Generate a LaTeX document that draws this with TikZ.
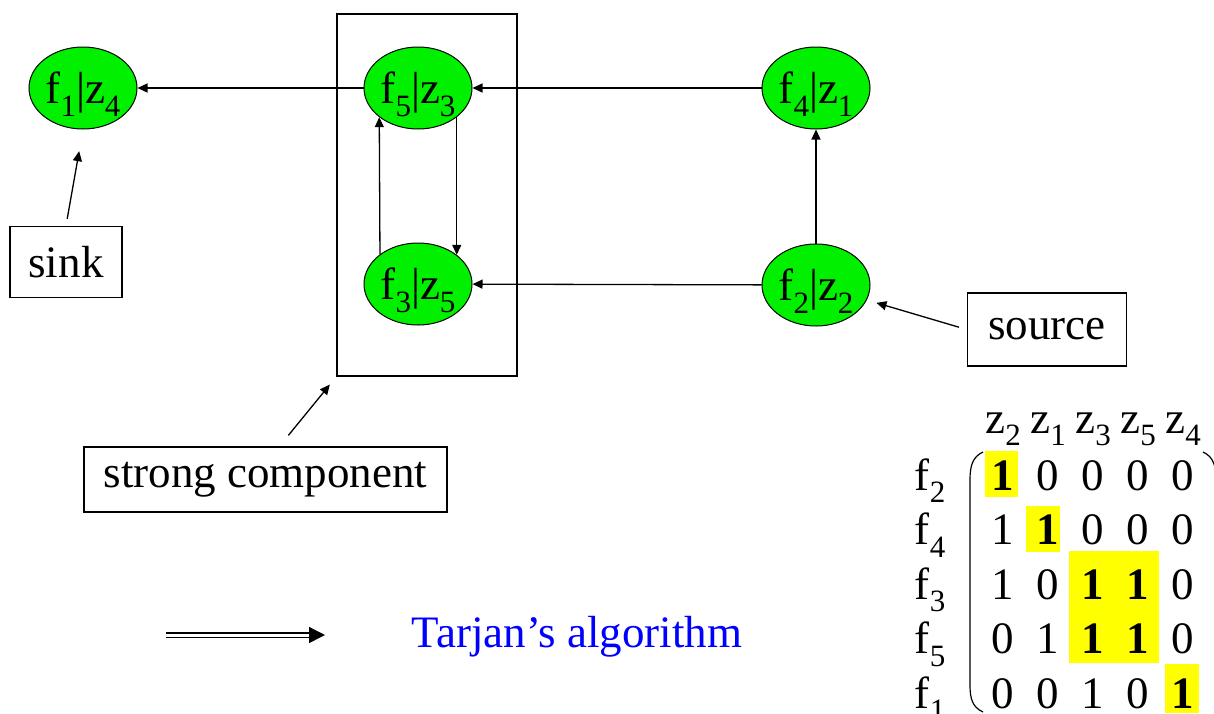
\documentclass[tikz,border=0pt]{standalone}
\usepackage{fontspec}
\setmainfont{Liberation Serif}
\usetikzlibrary{shapes.geometric,arrows.meta}

\definecolor{vgreen}{RGB}{0,240,0}
\definecolor{hilite}{RGB}{255,255,0}
\definecolor{tblue}{RGB}{0,0,255}
\newcommand{\lowidx}[1]{\raisebox{-0.28em}{\fontsize{15.5}{16}\selectfont #1}}
\newcommand{\fz}[2]{f\lowidx{#1}|z\lowidx{#2}}

\tikzset{
    every node/.style={font=\fontsize{22.5}{27}\selectfont},
    vert/.style={ellipse, draw, line width=0.5pt, fill=vgreen, text depth=0pt,
        minimum width=54pt, minimum height=41pt, inner sep=0pt},
    tagbox/.style={draw, line width=0.8pt, inner sep=0pt},
    edge/.style={line width=0.65pt, -{Triangle[length=5pt,width=4.5pt]}},
}

\begin{document}
\begin{tikzpicture}[x=0.5pt, y=-0.5pt]
        \useasboundingbox (0,0) rectangle (1214,713);
        % the strong component
        \node[tagbox, minimum width=90pt, minimum height=181pt] (scc) at (427,195) {};
        % vertices
        \node[vert] (f1) at (83,88) {\fz{1}{4}};
        \node[vert] (f5) at (418,88) {\fz{5}{3}};
        \node[vert] (f3) at (418,284) {\fz{3}{5}};
        \node[vert] (f4) at (816,88) {\fz{4}{1}};
        \node[vert] (f2) at (816,285) {\fz{2}{2}};
        \draw[edge] (f5) -- (f1);
        \draw[edge] (f4) -- (f5);
        \draw[edge] (f2) -- (f3);
        \draw[edge] (f2) -- (f4);
        \draw[edge] (f5.-37.5) -- (f3.37.5);
        \draw[edge] (f3.142.5) -- (f5.217.5);
        % labels
        \node[tagbox, minimum width=56pt, minimum height=35.5pt] (sink) at (66,262) {sink};
        \node[tagbox, minimum width=79.5pt, minimum height=36.5pt] (source) at (1047,329.5) {source};
        \node[tagbox, minimum width=181.5pt, minimum height=32.5pt] (strong) at (265.5,479.5) {strong component};
        \draw[edge, shorten <=3.5pt, shorten >=11pt] (sink.north) -- (f1.south);
        \draw[edge, shorten <=4pt, shorten >=5pt] (source.west) -- (f2);
        \draw[edge, shorten <=7pt, shorten >=5pt] ([xshift=7pt]strong.north) -- (scc.south west);
        % Tarjan
        \coordinate (dblA) at (166,635);
        \coordinate (dblB) at (325,635);
        \draw[double, double distance=1.5pt, line width=0.7pt,
            -{Triangle[length=8pt,width=8pt]}] (dblA) -- (dblB);
        \node[text=tblue] (tarjan) at (577,637) {Tarjan’s algorithm};
        % matrix
        \fill[hilite] (985,451) rectangle (1018,497);
        \fill[hilite] (1026,506) rectangle (1060,552);
        \fill[hilite] (1069,551) rectangle (1159,663);
        \fill[hilite] (1165,664) rectangle (1199,713);
        \foreach \z [count=\c] in {2,1,3,5,4}
            \node[anchor=base] (col-\c) at ({1003+45*(\c-1)},433) {z\lowidx{\z}};
        \foreach \f [count=\r] in {2,4,3,5,1}
            \node[anchor=base] (row-\r) at (930,{490+54.5*(\r-1)}) {f\lowidx{\f}};
        \foreach \vals [count=\r] in {{\textbf{1},0,0,0,0},{1,\textbf{1},0,0,0},
                {1,0,\textbf{1},\textbf{1},0},{0,1,\textbf{1},\textbf{1},0},{0,0,1,0,\textbf{1}}}
            \foreach \v [count=\c] in \vals
                \node[anchor=base] (m-\r-\c) at ({1003+45*(\c-1)},{490+54.5*(\r-1)}) {\v};
        \draw[line width=0.6pt] (983,452) .. controls (972,457) and (970,467) .. (970,480)
            -- (970,685) .. controls (970,698) and (972,707) .. (983,712);
        \draw[line width=0.6pt] (1203,452) .. controls (1214,457) and (1216,467) .. (1216,480);
    \end{tikzpicture}
\end{document}
